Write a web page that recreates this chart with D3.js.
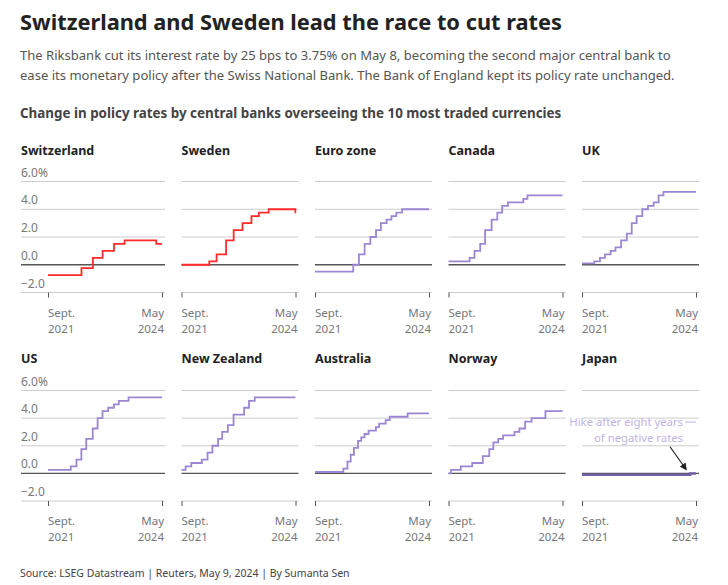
<!DOCTYPE html>
<html><head><meta charset="utf-8">
<script src="https://cdn.jsdelivr.net/npm/d3@7"></script>
<style>body{margin:0;background:#fff;font-family:"Noto Sans",sans-serif}</style>
</head><body><svg id="chart" width="728" height="585"></svg>
<script>
// rate changes: [date, rate after the move]
const countries = ["Switzerland","Sweden","Euro zone","Canada","UK","US","New Zealand","Australia","Norway","Japan"];
const switzerland = [["2021-09-01",-0.75],["2022-06-16",-0.25],["2022-09-22",0.5],["2022-12-15",1.0],["2023-03-23",1.5],["2023-06-22",1.75],["2024-03-21",1.5]];
const sweden = [["2021-09-01",0],["2022-04-28",0.25],["2022-06-30",0.75],["2022-09-20",1.75],["2022-11-24",2.5],["2023-02-08",3.0],["2023-04-26",3.5],["2023-06-29",3.75],["2023-09-21",4.0],["2024-05-08",3.75]];
const eurozone = [["2021-09-01",-0.5],["2022-07-27",0],["2022-09-14",0.75],["2022-11-02",1.5],["2022-12-21",2.0],["2023-02-08",2.5],["2023-03-22",3.0],["2023-05-10",3.25],["2023-06-21",3.5],["2023-08-02",3.75],["2023-09-20",4.0]];
const canada = [["2021-09-01",0.25],["2022-03-02",0.5],["2022-04-13",1.0],["2022-06-01",1.5],["2022-07-13",2.5],["2022-09-07",3.25],["2022-10-26",3.75],["2022-12-07",4.25],["2023-01-25",4.5],["2023-06-07",4.75],["2023-07-12",5.0]];
const uk = [["2021-09-01",0.1],["2021-12-16",0.25],["2022-02-03",0.5],["2022-03-17",0.75],["2022-05-05",1.0],["2022-06-16",1.25],["2022-08-04",1.75],["2022-09-22",2.25],["2022-11-03",3.0],["2022-12-15",3.5],["2023-02-02",4.0],["2023-03-23",4.25],["2023-05-11",4.5],["2023-06-22",5.0],["2023-08-03",5.25]];
const us = [["2021-09-01",0.25],["2022-03-16",0.5],["2022-05-04",1.0],["2022-06-15",1.75],["2022-07-27",2.5],["2022-09-21",3.25],["2022-11-02",4.0],["2022-12-14",4.5],["2023-02-01",4.75],["2023-03-22",5.0],["2023-05-03",5.25],["2023-07-26",5.5]];
const newzealand = [["2021-09-01",0.25],["2021-10-06",0.5],["2021-11-24",0.75],["2022-02-23",1.0],["2022-04-13",1.5],["2022-05-25",2.0],["2022-07-13",2.5],["2022-08-17",3.0],["2022-10-05",3.5],["2022-11-23",4.25],["2023-02-22",4.75],["2023-04-05",5.25],["2023-05-24",5.5]];
const australia = [["2021-09-01",0.1],["2022-05-03",0.35],["2022-06-07",0.85],["2022-07-05",1.35],["2022-08-02",1.85],["2022-09-06",2.35],["2022-10-04",2.6],["2022-11-01",2.85],["2022-12-06",3.1],["2023-02-07",3.35],["2023-03-07",3.6],["2023-05-02",3.85],["2023-06-06",4.1],["2023-11-07",4.35]];
const norway = [["2021-09-01",0],["2021-09-23",0.25],["2021-12-16",0.5],["2022-03-24",0.75],["2022-06-23",1.25],["2022-08-18",1.75],["2022-09-22",2.25],["2022-11-03",2.5],["2022-12-15",2.75],["2023-03-23",3.0],["2023-05-04",3.25],["2023-06-22",3.75],["2023-08-17",4.0],["2023-12-14",4.5]];
const japan = [["2021-09-01",-0.1],["2024-03-19",0.0]];
const seriesList = [switzerland,sweden,eurozone,canada,uk,us,newzealand,australia,norway,japan];
const yTicks = [6,4,2,0,-2];
const startDate = "2021-09-01", endDate = "2024-05-09";

const svg = d3.select("#chart");
const parse = d3.timeParse("%Y-%m-%d");
const grey = "#777";

svg.append("text").attr("x",20).attr("y",30).attr("font-size",21.8).attr("font-weight",700).attr("fill","#222")
  .text("Switzerland and Sweden lead the race to cut rates");
["The Riksbank cut its interest rate by 25 bps to 3.75% on May 8, becoming the second major central bank to",
 "ease its monetary policy after the Swiss National Bank. The Bank of England kept its policy rate unchanged."]
 .forEach((t,i)=>svg.append("text").attr("x",20).attr("y",60+i*20).attr("font-size",13.05).attr("fill","#555").text(t));
svg.append("text").attr("x",20).attr("y",118).attr("font-size",13.4).attr("font-weight",700).attr("fill","#444")
  .text("Change in policy rates by central banks overseeing the 10 most traded currencies");
svg.append("text").attr("x",20).attr("y",577).attr("font-size",10.5).attr("fill","#444")
  .text("Source: LSEG Datastream | Reuters, May 9, 2024 | By Sumanta Sen");

const x = d3.scaleTime().domain([parse(startDate),parse(endDate)]);
const rows = [{top:150, y0:181.5, y1:292.5},{top:358, y0:390.5, y1:501}];

seriesList.forEach((ser,i)=>{
  const col = i%5, r = rows[Math.floor(i/5)];
  const left = 48 + col*133.5, w = 114;
  const g = svg.append("g");
  const xs = x.copy().range([left,left+w]);
  const y = d3.scaleLinear().domain([6,-2]).range([r.y0,r.y1]);
  g.append("text").attr("x",col===0?21:left).attr("y",r.top+5).attr("font-size",12.5).attr("font-weight",700).attr("fill","#222").text(countries[i]);
  const gl = col===0?21:left, gr = left+w+3;
  yTicks.forEach(t=>{
    g.append("line").attr("x1",gl).attr("x2",gr).attr("y1",y(t)).attr("y2",y(t))
      .attr("stroke",t===0?"#555":"#ccc").attr("stroke-width",t===0?1.3:1);
    if(col===0) g.append("text").attr("x",21).attr("y",y(t)-5).attr("font-size",12).attr("fill",grey)
      .text(t===6?"6.0%":(t<0?"\u2212"+Math.abs(t).toFixed(1):t.toFixed(1)));
  });
  const ax = g.append("g").attr("transform",`translate(0,${r.y1})`)
    .call(d3.axisBottom(xs).tickValues([parse(startDate),parse(endDate)]).tickSize(5).tickFormat(""));
  ax.select(".domain").remove();
  ax.selectAll("line").attr("stroke","#555");
  [["Sept.","2021",left,"start"],["May","2024",left+w+2,"end"]].forEach(([a,b,xx,an])=>{
    g.append("text").attr("x",xx).attr("y",r.y1+24).attr("font-size",11.5).attr("fill",grey).attr("text-anchor",an).text(a);
    g.append("text").attr("x",xx).attr("y",r.y1+40).attr("font-size",11.5).attr("fill",grey).attr("text-anchor",an).text(b);
  });
  const pts = ser.map(d=>[parse(d[0]),d[1]]);
  pts.push([parse(endDate), ser[ser.length-1][1]]);
  const red = i<2, jp = i===9;
  g.append("path").datum(pts)
    .attr("d",d3.line().x(d=>xs(d[0])).y(d=>y(d[1])).curve(d3.curveStepAfter))
    .attr("fill","none").attr("stroke",red?"#ff2a2a":(jp?"#6f5fa8":"#9b86d2")).attr("stroke-width",jp?2.5:1.8);
  if(jp){
    const tx = left+w-8;
    g.append("text").attr("x",tx-5).attr("y",y(4)+8).attr("text-anchor","end").attr("font-size",11.3).attr("fill","#bfb3e3").text("Hike after eight years");
    g.append("line").attr("x1",tx-3).attr("x2",tx+8).attr("y1",y(4)+4).attr("y2",y(4)+4).attr("stroke","#bfb3e3");
    g.append("text").attr("x",tx-5).attr("y",y(4)+24).attr("text-anchor","end").attr("font-size",11.3).attr("fill","#bfb3e3").text("of negative rates");
    svg.append("defs").append("marker").attr("id","ar").attr("viewBox","0 0 10 10").attr("refX",8).attr("refY",5)
      .attr("markerWidth",6).attr("markerHeight",6).attr("orient","auto")
      .append("path").attr("d","M0,0L10,5L0,10z").attr("fill","#222");
    g.append("line").attr("x1",left+w-26).attr("y1",y(2)+1).attr("x2",left+w-10).attr("y2",y(0.3))
      .attr("stroke","#222").attr("stroke-width",1.2).attr("marker-end","url(#ar)");
  }
});
</script></body></html>
